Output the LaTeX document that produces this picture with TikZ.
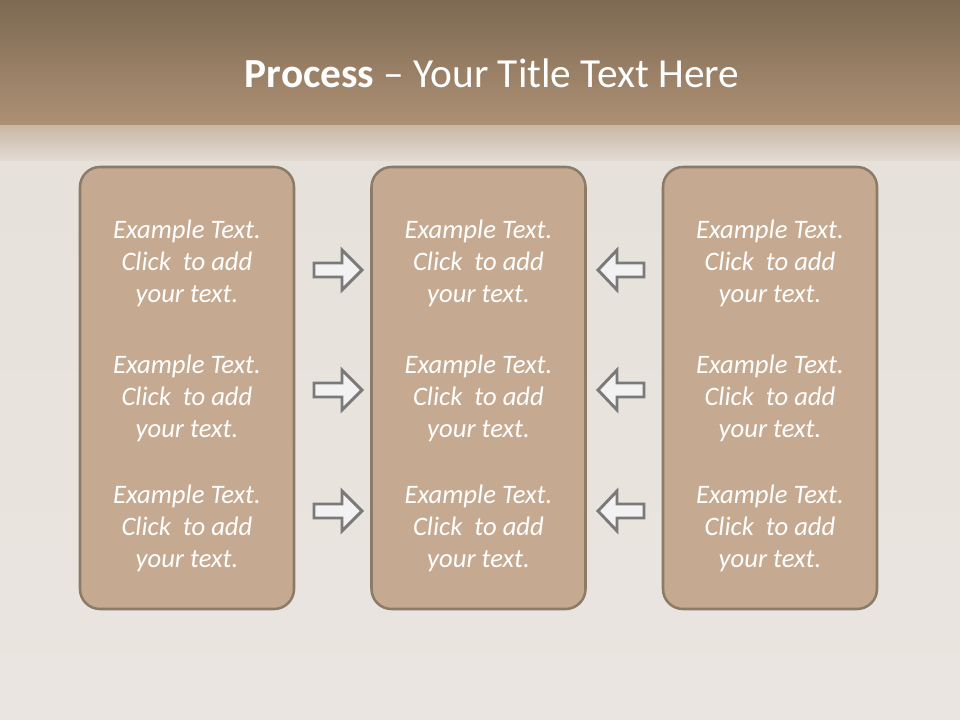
\documentclass[tikz,border=0pt]{standalone}
\usepackage{fontspec}
\setmainfont{Carlito}
\definecolor{bandtop}{HTML}{7D6953}
\definecolor{bandbot}{HTML}{AE9174}
\definecolor{paperhi}{HTML}{C9B8A6}
\definecolor{paperlo}{HTML}{E4DCD4}
\definecolor{paper}{HTML}{E7E1DB}
\definecolor{paperend}{HTML}{EAE5E0}
\definecolor{boxfill}{HTML}{C5AA91}
\definecolor{boxline}{HTML}{8B7B67}
\definecolor{arrowfill}{HTML}{F2F2F2}
\definecolor{arrowline}{HTML}{7A7A7A}
\newcommand\clicktext{\begin{tabular}{@{}c@{}}Example Text.\\Click\ \ to add\\your text.\end{tabular}}
\begin{document}
\begin{tikzpicture}[x=0.75pt,y=-0.75pt,line width=0.6pt,
    stage/.style={draw=boxline, fill=boxfill, line width=1.9pt, rounded corners=15pt,
      minimum width=160.5pt, minimum height=331.5pt, inner sep=0pt},
    blockarrow/.style={draw=arrowline, fill=arrowfill, line width=2.2pt, line join=miter},
    clickbox/.style={font=\fontsize{20}{24}\selectfont\itshape, text=white, inner sep=0pt},
    titletext/.style={font=\fontsize{31}{37}\selectfont, text=white, anchor=base, inner sep=0pt}]
  \useasboundingbox (0,0) rectangle (960,720);
  \shade[top color=bandtop, bottom color=bandbot] (0,0) rectangle (960,126);
  \shade[top color=paperhi, bottom color=paperlo] (0,126) rectangle (960,162);
  \shade[top color=paper, bottom color=paperend] (0,162) rectangle (960,720);
  \node[titletext] (title) at (492,88) {\textbf{Process} – Your Title Text Here};
  \node[stage] (left) at (187,388) {};
  \node[stage] (middle) at (478.5,388) {};
  \node[stage] (right) at (770,388) {};
  \foreach \x/\c in {187/a,478.5/b,770/c}
    \foreach \y/\r in {264/1,399/2,529/3}
      \node[clickbox] (\c\r) at (\x,\y) {\clicktext};
  \foreach \y in {270,390,511}{
    \draw[blockarrow] (314,\y-7) -- (342,\y-7) -- (342,\y-20) -- (362,\y) -- (342,\y+20) -- (342,\y+7) -- (314,\y+7) -- cycle;
    \draw[blockarrow] (644,\y-7) -- (617,\y-7) -- (617,\y-20) -- (598,\y) -- (617,\y+20) -- (617,\y+7) -- (644,\y+7) -- cycle;
  }
\end{tikzpicture}
\end{document}
